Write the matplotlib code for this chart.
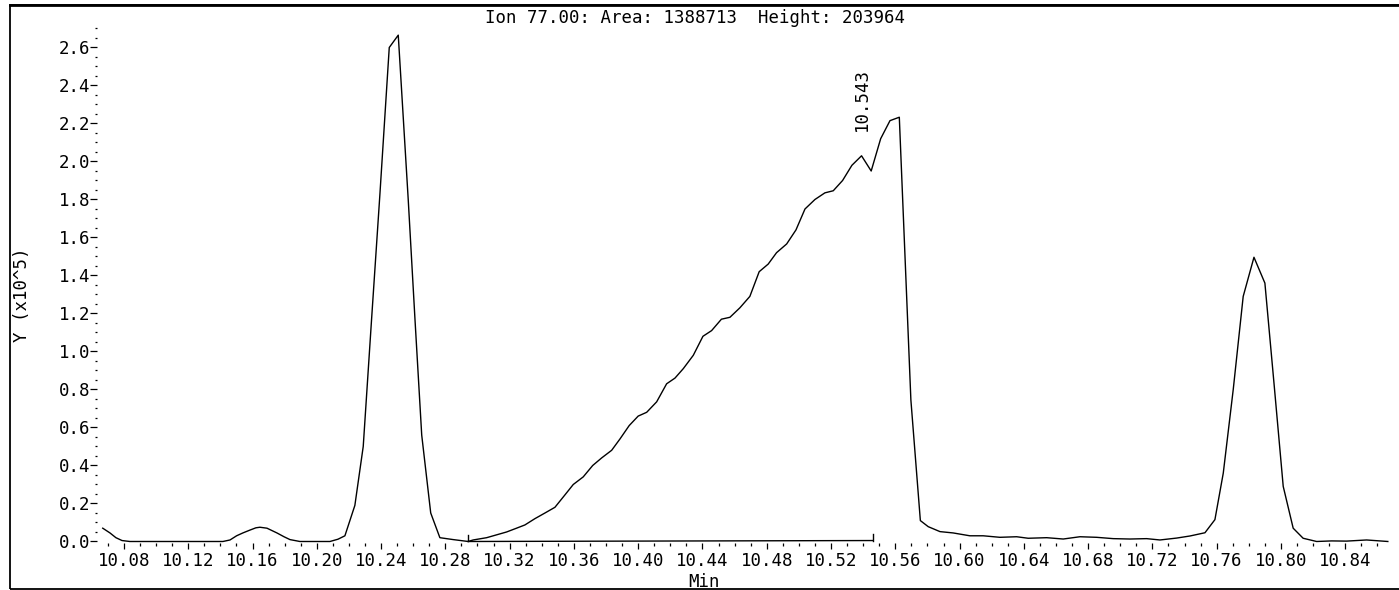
import matplotlib
matplotlib.use('Agg')
import matplotlib.pyplot as plt
from matplotlib.ticker import MultipleLocator, FormatStrFormatter
from matplotlib.patches import Rectangle

# ==========================================
# DATA
# ==========================================
# retention time (min) and abundance (x10^5)
rt = [10.0668, 10.0713, 10.0750, 10.0788, 10.0837, 10.0962, 10.1148, 10.1335,
      10.1416, 10.1460, 10.1501, 10.1540, 10.1584, 10.1621, 10.1646, 10.1690,
      10.1752, 10.1796, 10.1833, 10.1895, 10.1989, 10.2082, 10.2132, 10.2175,
      10.2237, 10.2289, 10.2341, 10.2393, 10.2451, 10.2507, 10.2569, 10.2611,
      10.2653, 10.2709, 10.2766, 10.2849, 10.2942, 10.2973, 10.3057, 10.3119,
      10.3181, 10.3243, 10.3295, 10.3357, 10.3420, 10.3482, 10.3544, 10.3596,
      10.3658, 10.3717, 10.3773, 10.3835, 10.3887, 10.3944, 10.4000, 10.4053,
      10.4115, 10.4177, 10.4229, 10.4281, 10.4343, 10.4403, 10.4457, 10.4518,
      10.4571, 10.4633, 10.4695, 10.4753, 10.4809, 10.4861, 10.4924, 10.4982,
      10.5038, 10.5100, 10.5162, 10.5214, 10.5272, 10.5330, 10.5390, 10.5450,
      10.5509, 10.5567, 10.5625, 10.5697, 10.5756, 10.5805, 10.5878, 10.5960,
      10.6064, 10.6147, 10.6251, 10.6355, 10.6427, 10.6542, 10.6645, 10.6749,
      10.6853, 10.6956, 10.7060, 10.7164, 10.7247, 10.7351, 10.7434, 10.7527,
      10.7589, 10.7641, 10.7703, 10.7765, 10.7832, 10.7900, 10.7958, 10.8014,
      10.8076, 10.8138, 10.8222, 10.8315, 10.8408, 10.8533, 10.8665]
abund = [0.070, 0.045, 0.020, 0.005, 0.000, 0.000, 0.000, 0.000,
         0.000, 0.008, 0.030, 0.045, 0.060, 0.072, 0.075, 0.070,
         0.045, 0.025, 0.010, 0.000, 0.000, 0.000, 0.012, 0.030,
         0.190, 0.500, 1.170, 1.830, 2.600, 2.665, 1.800, 1.170,
         0.560, 0.150, 0.020, 0.010, 0.000, 0.008, 0.020, 0.035,
         0.050, 0.070, 0.087, 0.120, 0.150, 0.180, 0.245, 0.300,
         0.340, 0.400, 0.440, 0.480, 0.540, 0.610, 0.660, 0.680,
         0.735, 0.830, 0.860, 0.910, 0.980, 1.080, 1.110, 1.170,
         1.180, 1.230, 1.290, 1.420, 1.460, 1.520, 1.566, 1.640,
         1.750, 1.800, 1.835, 1.846, 1.900, 1.980, 2.030, 1.950,
         2.120, 2.215, 2.233, 0.745, 0.110, 0.078, 0.052, 0.045,
         0.030, 0.030, 0.022, 0.025, 0.017, 0.020, 0.013, 0.025,
         0.022, 0.015, 0.013, 0.015, 0.008, 0.018, 0.029, 0.046,
         0.115, 0.360, 0.800, 1.290, 1.496, 1.360, 0.820, 0.290,
         0.070, 0.017, 0.000, 0.003, 0.002, 0.008, 0.000]

# integration baseline of the labelled peak
base_rt = [10.2942, 10.5461]
base_y = [0.000, 0.005]

peak_label = '10.543'
peak_rt = 10.5390
peak_top = 2.16

title = 'Ion 77.00: Area: 1388713  Height: 203964'
x_major = 0.04
x_minor = 0.01
y_major = 0.2
y_minor = 0.05

# ==========================================
# PLOT
# ==========================================
plt.rcParams['font.family'] = ['DejaVu Sans Mono']
fs = 12.5

fig = plt.figure(figsize=(13.99, 5.90), dpi=100)
ax = fig.add_axes([0.0693, 0.079, 0.9257, 0.8727])

ax.plot(rt, abund, color='black', lw=1.0)

# integration baseline with end marks
ax.plot(base_rt, base_y, color='black', lw=1.0)
for bx, by in zip(base_rt, base_y):
    ax.plot([bx, bx], [by, by + 0.035], color='black', lw=1.0)

ax.text(peak_rt, peak_top, peak_label, rotation=90, ha='center', va='bottom',
        fontsize=fs)

ax.set_xlim(10.0632, 10.8691)
ax.set_ylim(-0.01, 2.70)

for s in ax.spines.values():
    s.set_visible(False)

ax.xaxis.set_major_locator(MultipleLocator(x_major))
ax.xaxis.set_minor_locator(MultipleLocator(x_minor))
ax.xaxis.set_major_formatter(FormatStrFormatter('%.2f'))
ax.yaxis.set_major_locator(MultipleLocator(y_major))
ax.yaxis.set_minor_locator(MultipleLocator(y_minor))
ax.yaxis.set_major_formatter(FormatStrFormatter('%.1f'))

ax.tick_params(axis='x', which='major', direction='out', length=4.5, width=0.9,
               labelsize=fs, pad=2)
ax.tick_params(axis='x', which='minor', direction='out', length=2.2, width=0.9)
ax.tick_params(axis='y', which='major', direction='out', length=5, width=0.9,
               labelsize=fs, pad=0)
ax.tick_params(axis='y', which='minor', direction='out', length=1.5, width=0.9)

# texts placed on the page like the plotter output
fig.text(0.497, 0.970, title, ha='center', va='center', fontsize=fs)
fig.text(0.503, 0.013, 'Min', ha='center', va='center', fontsize=fs)
fig.text(0.016, 0.5, 'Y (x10^5)', rotation=90, ha='center', va='center',
         fontsize=fs)
fig.text(0.4885, 1.008, 'Min', ha='center', va='center', fontsize=fs)

# page frame
fig.patches.append(Rectangle((0.0072, 0.002), 1.2, 0.989, transform=fig.transFigure,
                             fill=False, edgecolor='black', lw=1.3))
fig.add_artist(plt.Line2D([0.0072, 1.0], [0.991, 0.991], transform=fig.transFigure,
                          color='black', lw=2.0))

fig.savefig('out.png', dpi=100)
